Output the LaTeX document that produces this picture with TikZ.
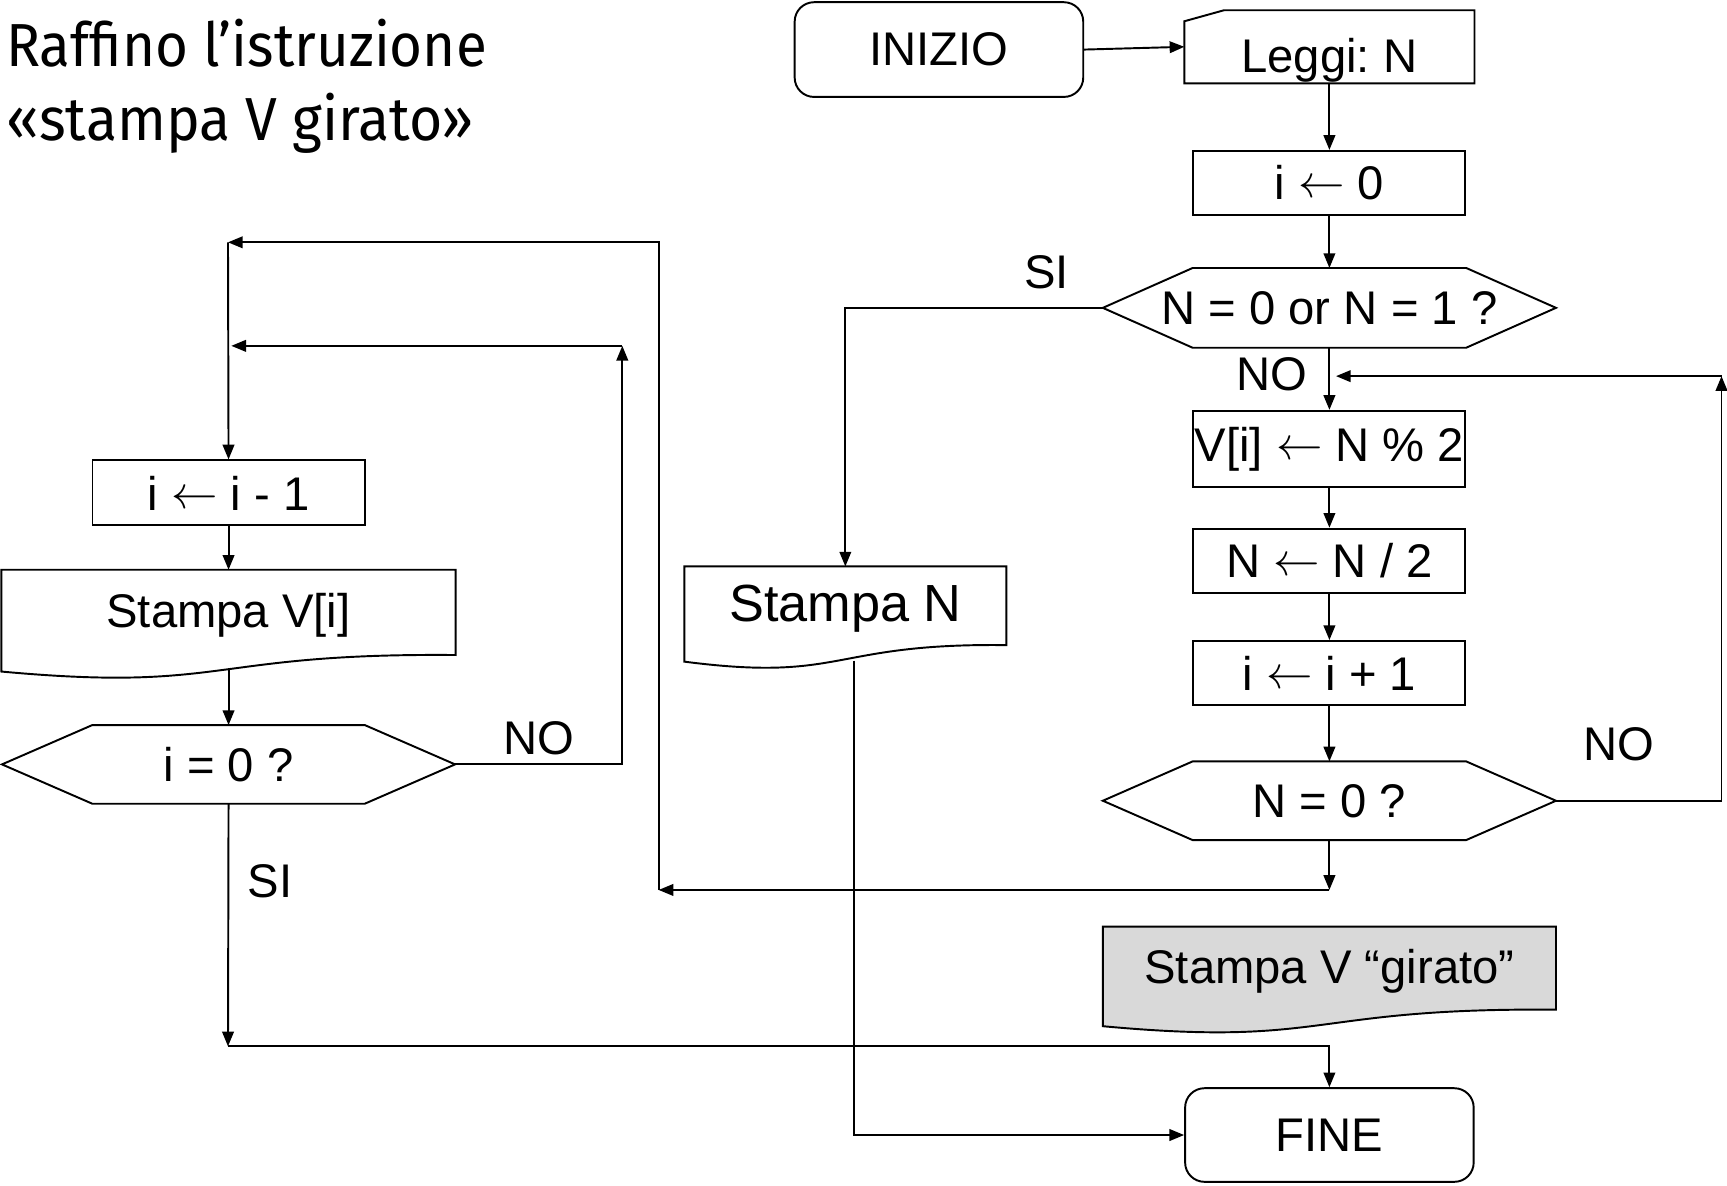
\documentclass[tikz,border=0pt]{standalone}
\usepackage{fontspec}
\setmainfont{Liberation Sans}
\newfontfamily\titlefont{Fira Sans}
\usetikzlibrary{arrows.meta,calc,backgrounds}
\frenchspacing

\newcommand{\freccia}{\raisebox{0.04em}{$\leftarrow$}}
% esagono disegnato attorno a un nodo senza bordo: #1 nodo, #2 smusso
\newcommand{\hexshape}[2]{%
  \draw[flow] (#1.west) -- ($(#1.north west)+(#2,0)$) -- ($(#1.north east)-(#2,0)$)
    -- (#1.east) -- ($(#1.south east)-(#2,0)$) -- ($(#1.south west)+(#2,0)$) -- cycle;}
% documento con bordo inferiore ondulato: #1 nodo, #2 colore
\newcommand{\docshape}[2]{%
  \begin{scope}[on background layer]
  \draw[flow,fill=#2] (#1.north west) -- (#1.north east) -- ($(#1.south east)+(0,0.14)$)
    .. controls ($(#1.south west)!0.45!(#1.south east)+(0,0.16)$) and ($(#1.south)+(0,-0.2)$)
    .. ($(#1.south west)+(0,-0.01)$) -- cycle;
  \end{scope}}

\begin{document}
\begin{tikzpicture}[
    every node/.style={font=\fontsize{12.2}{14.6}\selectfont},
    flow/.style={line width=0.5pt},
    arr/.style={flow, -{Triangle[length=3.8pt,width=3pt]}},
    proc/.style={draw, flow, minimum width=2.47cm, minimum height=0.58cm, inner sep=0pt},
    term/.style={draw, flow, rounded corners=5pt, minimum width=2.62cm, minimum height=0.86cm, inner sep=0pt},
    hexnode/.style={minimum width=4.10cm, minimum height=0.70cm, inner sep=0pt},
    docnode/.style={inner sep=0pt, text height=0.34cm, text depth=0.2cm},
    headline/.style={font=\titlefont\fontsize{15.7}{19}\selectfont, anchor=base west, inner sep=0pt},
  ]
  \useasboundingbox (0,0) rectangle (15.68,-10.76);

  % titolo
  \node[headline] (head1) at (0.05,-0.60) {\scalebox{0.93}[1]{Raffino l’istruzione}};
  \node[headline] (head2) at (0.05,-1.28) {\scalebox{0.94}[1]{«stampa V girato»}};

  % colonna destra
  \node[term] (inizio) at (8.525,-0.45) {INIZIO};
  \node[minimum width=2.62cm, minimum height=0.65cm, inner sep=0pt,
        text height=0.55cm, text depth=0.09cm] (leggi) at (12.07,-0.425) {Leggi: N};
  \draw[flow] (leggi.south west) -- ($(leggi.north west)+(0,-0.1)$) -- ($(leggi.north west)+(0.36,0)$)
    -- (leggi.north east) -- (leggi.south east) -- cycle;
  \node[proc] (izero) at (12.07,-1.66) {i \freccia\ 0};
  \node[hexnode, minimum height=0.71cm] (nzerouno) at (12.07,-2.795) {N = 0 or N = 1 ?};
  \hexshape{nzerouno}{0.815}
  \node[proc, minimum height=0.69cm] (resto) at (12.07,-4.075) {V[i] \freccia\ N \% 2};
  \node[proc] (dimezza) at (12.07,-5.09) {N \freccia\ N / 2};
  \node[proc] (incr) at (12.07,-6.11) {i \freccia\ i + 1};
  \node[hexnode] (nzero) at (12.07,-7.27) {N = 0 ?};
  \hexshape{nzero}{0.815}
  \node[docnode, minimum width=4.10cm, minimum height=0.88cm] (girato) at (12.07,-8.86) {Stampa V “girato”};
  \docshape{girato}{black!15}
  \node[term, minimum height=0.85cm] (fine) at (12.07,-10.305) {FINE};

  % colonna centrale
  \node[docnode, minimum width=2.91cm, minimum height=0.84cm,
        font=\fontsize{13.5}{16}\selectfont] (stampaN) at (7.675,-5.57) {Stampa N};
  \docshape{stampaN}{white}

  % colonna sinistra
  \node[proc, minimum height=0.59cm] (idec) at (2.075,-4.475) {i \freccia\ i - 1};
  \node[docnode, minimum width=4.11cm, minimum height=0.90cm] (stampaVi) at (2.075,-5.63) {Stampa V[i]};
  \docshape{stampaVi}{white}
  \node[hexnode] (izerotest) at (2.075,-6.94) {i = 0 ?};
  \hexshape{izerotest}{0.82}

  % collegamenti
  \draw[arr] (inizio.east) -- (leggi.west);
  \draw[arr] (leggi.south) -- (izero.north);
  \draw[arr] (izero.south) -- (nzerouno.north);
  \draw[arr] (nzerouno.south) -- (resto.north);
  \draw[arr] (resto.south) -- (dimezza.north);
  \draw[arr] (dimezza.south) -- (incr.north);
  \draw[arr] (incr.south) -- (nzero.north);
  \draw[arr] (nzerouno.west) -| (stampaN.north);
  \draw[arr] ($(stampaN.south)+(0.075,0)$) |- (fine.west);

  \coordinate (ritorno) at (15.63,-3.415);
  \coordinate (innesto) at (12.13,-3.415);
  \draw[arr] (nzero.east) -| (ritorno);
  \draw[arr] (ritorno) -- (innesto);

  \coordinate (uscita) at (12.07,-8.08);
  \coordinate (salita) at (5.98,-8.08);
  \coordinate (ingresso) at (2.07,-2.20);
  \draw[arr] (nzero.south) -- (uscita);
  \draw[arr] (uscita) -- (salita);
  \draw[arr] (salita) |- (ingresso);
  \draw[arr] (ingresso) -- (idec.north);
  \draw[arr] (idec.south) -- (stampaVi.north);
  \draw[arr] (stampaVi.south) -- (izerotest.north);

  \coordinate (giro) at (5.65,-3.14);
  \coordinate (rientro) at (2.10,-3.14);
  \draw[arr] (izerotest.east) -| (giro);
  \draw[arr] (giro) -- (rientro);
  \coordinate (fondo) at (2.07,-9.50);
  \draw[arr] (izerotest.south) -- (fondo);
  \draw[arr] (fondo) -| (fine.north);

  % etichette
  \node (siA) at (9.50,-2.47) {SI};
  \node (noA) at (11.55,-3.40) {NO};
  \node (noB) at (14.70,-6.76) {NO};
  \node (noC) at (4.89,-6.70) {NO};
  \node (siB) at (2.45,-8.00) {SI};
\end{tikzpicture}
\end{document}
